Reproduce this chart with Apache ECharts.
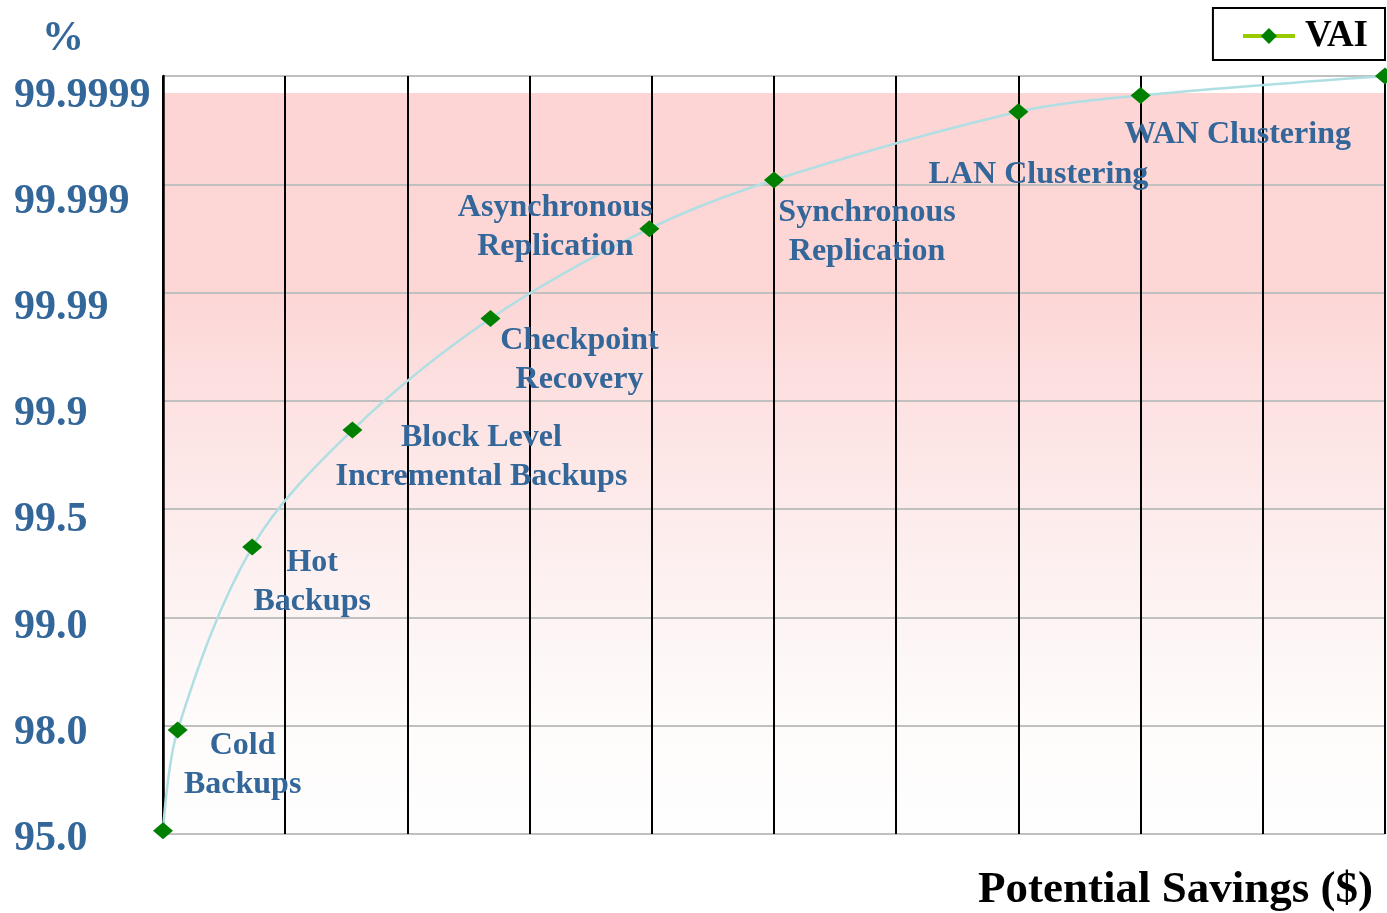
<!DOCTYPE html>
<html>
<head>
<meta charset="utf-8">
<script src="https://cdn.jsdelivr.net/npm/echarts@6/dist/echarts.min.js"></script>
<style>
  html, body { margin: 0; padding: 0; background: #fff; }
  #chart { width: 1387px; height: 913px; }
</style>
</head>
<body>
<div id="chart"></div>
<script>
// availability levels shown on the y axis (evenly spaced)
var yLabels = ['95.0', '98.0', '99.0', '99.5', '99.9', '99.99', '99.999', '99.9999'];

// VAI curve, x = savings position (0..10), y = position on the nines scale (0..7)
var savingsX = [0, 0.12, 0.73, 1.55, 2.68, 3.98, 5.0, 7.0, 8.0, 10];
var levelY = [0.03, 0.96, 2.65, 3.73, 4.76, 5.59, 6.04, 6.67, 6.82, 7.0];
var pointNames = [
  '', 'Cold\nBackups', 'Hot\nBackups', 'Block Level\nIncremental Backups',
  'Checkpoint\nRecovery', 'Asynchronous\nReplication', 'Synchronous\nReplication',
  'LAN Clustering', 'WAN Clustering', ''
];

// where each annotation sits relative to its point (px)
var labelOffsets = [
  [0, 0], [65, 35], [60, 35], [129, 27], [89, 42],
  [-94, -1], [93, 52], [20, 63], [97, 39], [0, 0]
];

var serif = '"Liberation Serif", "Times New Roman", serif';
var blue = '#336699';

var points = savingsX.map(function (x, i) {
  return {
    value: [x, levelY[i]],
    label: {
      show: pointNames[i] !== '',
      formatter: pointNames[i],
      position: 'inside',
      offset: labelOffsets[i]
    }
  };
});

var chart = echarts.init(document.getElementById('chart'));
chart.setOption({
  animation: false,
  backgroundColor: '#fff',
  title: [
    {
      text: '%', left: 42, top: 18, padding: 0,
      textStyle: { fontFamily: serif, fontSize: 42, fontWeight: 'bold', color: blue }
    },
    {
      text: 'Potential Savings ($)', right: 14, bottom: 0, padding: 0,
      textStyle: { fontFamily: serif, fontSize: 45, fontWeight: 'bold', color: '#000' }
    }
  ],
  legend: {
    data: ['VAI'],
    right: 2, top: 8,
    padding: [8, 17, 4, 28],
    borderColor: '#000', borderWidth: 2,
    itemWidth: 52, itemHeight: 20,
    lineStyle: { color: '#99cc00', width: 4 },
    textStyle: {
      fontFamily: serif, fontSize: 37, fontWeight: 'bold', color: '#000',
      lineHeight: 32, padding: [8, 0, 0, 5]
    }
  },
  grid: { left: 163, right: 2, top: 76, bottom: 79, containLabel: false },
  xAxis: {
    type: 'value', min: 0, max: 10, interval: 1, z: 2,
    axisLine: { show: false }, axisTick: { show: false }, axisLabel: { show: false },
    splitLine: { show: true, lineStyle: { color: '#000', width: 2 } }
  },
  yAxis: [
    {
      type: 'value', min: 0, max: 7, interval: 1, z: 2,
      axisLine: { show: true, lineStyle: { color: '#000', width: 2.5 } },
      axisTick: { show: false }, axisLabel: { show: false },
      splitLine: { show: true, lineStyle: { color: '#c0c0c0', width: 2 } }
    },
    {
      // label-only axis: the text labels sit slightly off the grid lines
      type: 'value', min: -0.0188, max: 7.122, position: 'left',
      axisLine: { show: false }, axisTick: { show: false }, splitLine: { show: false },
      axisLabel: {
        customValues: [0, 1, 2, 3, 4, 5, 6, 7],
        formatter: function (v) { return yLabels[Math.round(v)]; },
        align: 'left', verticalAlign: 'top', lineHeight: 14, margin: 149,
        fontFamily: serif, fontSize: 42, fontWeight: 'bold', color: blue
      }
    }
  ],
  series: [
    {
      name: 'bg', type: 'line', z: -1, silent: true,
      data: [[0, 0], [10, 0]], symbol: 'none',
      lineStyle: { opacity: 0 },
      markArea: {
        silent: true,
        itemStyle: {
          color: new echarts.graphic.LinearGradient(0, 0, 0, 1, [
            { offset: 0, color: '#fdd5d5' },
            { offset: 0.27, color: '#fdd6d6' },
            { offset: 0.42, color: '#fde2e2' },
            { offset: 0.56, color: '#fdebeb' },
            { offset: 0.71, color: '#fdf4f4' },
            { offset: 0.86, color: '#fefcfb' },
            { offset: 1, color: '#fefefe' }
          ])
        },
        data: [[{ coord: [0, 0] }, { coord: [10, 6.843] }]]
      }
    },
    {
      name: 'VAI', type: 'line', smooth: 0.33, clip: false,
      data: points,
      symbol: 'diamond', symbolSize: [20, 17],
      itemStyle: { color: '#008000' },
      lineStyle: { color: '#b0dfe3', width: 2.5 },
      label: {
        fontFamily: serif, fontSize: 32, fontWeight: 'bold', color: blue,
        lineHeight: 39, align: 'center', verticalAlign: 'middle'
      },
      z: 3
    }
  ]
});
</script>
</body>
</html>
